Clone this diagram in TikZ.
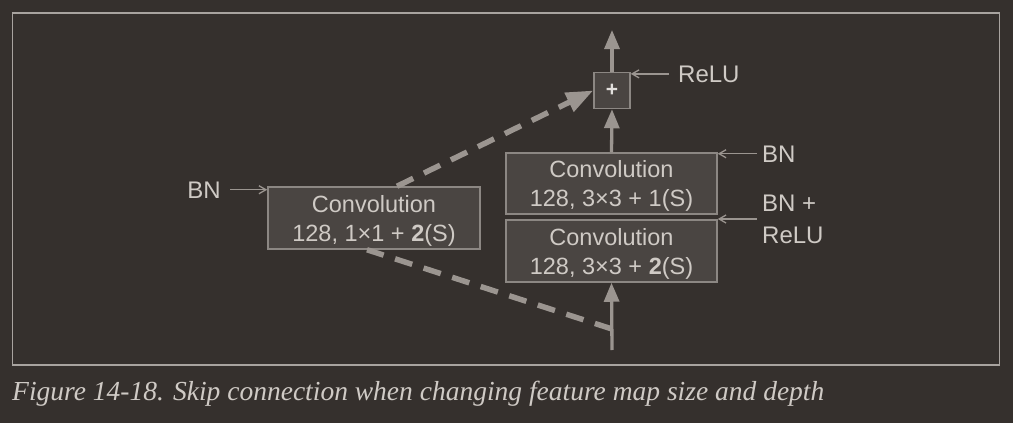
\documentclass[tikz,border=0pt]{standalone}
\usepackage{fontspec}
\setmainfont{Liberation Serif}
\setsansfont{Liberation Sans}
\usetikzlibrary{arrows.meta}

\definecolor{fundo}{HTML}{35302D}
\definecolor{caixa}{HTML}{4A4542}
\definecolor{borda}{HTML}{8C8783}
\definecolor{texto}{HTML}{CFCAC5}
\definecolor{linha}{HTML}{9B9590}
\definecolor{moldura}{HTML}{A8A39F}

\begin{document}
\begin{tikzpicture}[x=1pt,y=-1pt]
\tikzset{
  convbox/.style={draw=borda,line width=1.5pt,fill=caixa,text=texto,
    minimum width=211pt,minimum height=62pt,inner sep=0pt,align=center,text depth=0pt,
    font=\sffamily\fontsize{23.5}{29}\selectfont},
  somabox/.style={draw=borda,line width=1.5pt,fill=caixa,text=texto!60!white,
    minimum size=36pt,inner sep=0pt,font=\sffamily\bfseries\fontsize{21}{24}\selectfont},
  rotulo/.style={text=texto,inner sep=0pt,font=\sffamily\fontsize{24}{32}\selectfont},
  edgem/.style={draw=linha,line width=3.3pt,-{Triangle[length=19pt,width=15pt]}},
  edges/.style={draw=linha,line width=5.5pt,dash pattern=on 18pt off 12pt},
  edget/.style={draw=linha,line width=1.3pt,-{Straight Barb[length=7pt,width=8pt]}}
}
% fundo e moldura
\fill[fundo] (0,0) rectangle (1013,423);
\useasboundingbox (0,0) rectangle (1013,423);
\draw[moldura,line width=1.5pt] (12.5,13) rectangle (999.5,365);

% blocos (atalho à esquerda; duas convoluções e soma à direita)
\node[convbox,minimum width=212pt] (convs) at (374,218) {Convolution\\128, 1\texttimes1 + \textbf{2}(S)};
\node[convbox,minimum height=61pt] (convb) at (611.5,183.5) {Convolution\\128, 3\texttimes3 + 1(S)};
\node[convbox] (conva) at (611.5,251) {Convolution\\128, 3\texttimes3 + \textbf{2}(S)};
\node[somabox] (soma) at (612,90.5) {+};

% pontos livres
\coordinate (topo) at (612,30);
\coordinate (entrada) at (612,350);
\coordinate (juncao) at (612,329);

% rótulos
\node[rotulo,anchor=base west] (relu) at (678,82) {ReLU};
\node[rotulo,anchor=base west] (bnb) at (762,162) {BN};
\node[rotulo,anchor=west,align=left] (bnrelu) at (762,219) {BN +\\ReLU};
\node[rotulo,anchor=base east] (bns) at (221,198) {BN};

% caminho principal
\draw[edgem] (entrada) -- (conva.south);
\draw[edgem] (convb.north) -- (soma.south);
\draw[edgem] (soma.north) -- (topo);

% atalho tracejado
\draw[edges] (juncao) -- ([xshift=-7pt]convs.south);
\draw[edges,-{Triangle[length=27pt,width=20pt]}] ([xshift=23pt]convs.north) -- (soma.west);

% setas dos rótulos
\draw[edget] ([xshift=-9pt]relu.west) -- (relu.west -| soma.east);
\draw[edget] ([xshift=-5pt]bnb.west) -- (bnb.west -| convb.east);
\draw[edget] ([xshift=-5pt]bnrelu.west) -- (bnrelu.west -| conva.east);
\draw[edget] ([xshift=9pt]bns.east) -- (bns.east -| convs.west);

% legenda
\node[anchor=base west,inner sep=0pt,text=texto,font=\itshape\fontsize{27.5}{30}\selectfont] (legenda) at (12,400)
  {Figure 14-18. Skip connection when changing feature map size and depth};
\end{tikzpicture}
\end{document}
